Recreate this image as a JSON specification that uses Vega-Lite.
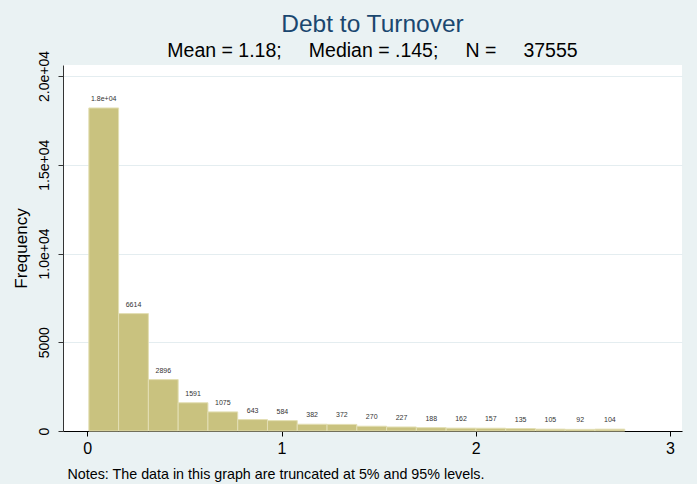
{
  "$schema": "https://vega.github.io/schema/vega-lite/v6.json",
  "width": 619,
  "height": 366,
  "autosize": {"type": "none"},
  "padding": {"left": 63, "top": 65, "right": 15, "bottom": 53},
  "background": "#eaf2f3",
  "config": {"view": {"fill": "white", "stroke": null}, "font": "Liberation Sans"},
  "title": {
    "text": "Debt to Turnover",
    "subtitle": "Mean = 1.18;\u00a0\u00a0\u00a0\u00a0 Median = .145;\u00a0\u00a0\u00a0\u00a0 N =\u00a0\u00a0\u00a0\u00a0 37555",
    "fontSize": 24.5,
    "fontWeight": "normal",
    "color": "#1a476f",
    "subtitleFontSize": 19.5,
    "subtitleColor": "#000000",
    "subtitlePadding": 5,
    "anchor": "middle",
    "dx": 0,
    "offset": -11
  },
  "data": {
    "values": [
      {"start": 0.008, "end": 0.1613, "mid": 0.0847, "count": 18200, "label": "1.8e+04"},
      {"start": 0.1613, "end": 0.3146, "mid": 0.238, "count": 6614, "label": "6614"},
      {"start": 0.3146, "end": 0.4679, "mid": 0.3913, "count": 2896, "label": "2896"},
      {"start": 0.4679, "end": 0.6212, "mid": 0.5446, "count": 1591, "label": "1591"},
      {"start": 0.6212, "end": 0.7745, "mid": 0.6979, "count": 1075, "label": "1075"},
      {"start": 0.7745, "end": 0.9278, "mid": 0.8512, "count": 643, "label": "643"},
      {"start": 0.9278, "end": 1.0811, "mid": 1.0045, "count": 584, "label": "584"},
      {"start": 1.0811, "end": 1.2344, "mid": 1.1578, "count": 382, "label": "382"},
      {"start": 1.2344, "end": 1.3877, "mid": 1.3111, "count": 372, "label": "372"},
      {"start": 1.3877, "end": 1.541, "mid": 1.4644, "count": 270, "label": "270"},
      {"start": 1.541, "end": 1.6943, "mid": 1.6177, "count": 227, "label": "227"},
      {"start": 1.6943, "end": 1.8476, "mid": 1.771, "count": 188, "label": "188"},
      {"start": 1.8476, "end": 2.0009, "mid": 1.9243, "count": 162, "label": "162"},
      {"start": 2.0009, "end": 2.1542, "mid": 2.0776, "count": 157, "label": "157"},
      {"start": 2.1542, "end": 2.3075, "mid": 2.2309, "count": 135, "label": "135"},
      {"start": 2.3075, "end": 2.4608, "mid": 2.3842, "count": 105, "label": "105"},
      {"start": 2.4608, "end": 2.6141, "mid": 2.5375, "count": 92, "label": "92"},
      {"start": 2.6141, "end": 2.7674, "mid": 2.6908, "count": 104, "label": "104"}
    ]
  },
  "layer": [
    {
      "mark": {"type": "bar", "fill": "#c9c27f", "stroke": "#e3dfb4", "strokeWidth": 1},
      "encoding": {
        "x": {
          "field": "start",
          "type": "quantitative",
          "scale": {"domain": [-0.125, 3.062], "nice": false, "zero": false},
          "axis": {
            "values": [0, 1, 2, 3],
            "format": "d",
            "grid": false,
            "domainColor": "#000000",
            "domainWidth": 1,
            "tickColor": "#000000",
            "tickSize": 5,
            "labelFontSize": 16,
            "labelColor": "#000000",
            "labelPadding": 4,
            "labelFlush": false,
            "title": "Notes: The data in this graph are truncated at 5% and 95% levels.",
            "titleFontSize": 14.3,
            "titleFontWeight": "normal",
            "titleColor": "#000000",
            "titleAnchor": "start",
            "titleAlign": "left",
            "titleX": 4,
            "titleY": 47,
            "titleBaseline": "alphabetic"
          }
        },
        "x2": {"field": "end"},
        "y": {
          "field": "count",
          "type": "quantitative",
          "scale": {"domain": [0, 20620], "nice": false},
          "axis": {
            "values": [0, 5000, 10000, 15000, 20000],
            "labelExpr": "datum.value == 0 ? '0' : datum.value == 5000 ? '5000' : datum.value == 10000 ? '1.0e+04' : datum.value == 15000 ? '1.5e+04' : '2.0e+04'",
            "labelAngle": 270,
            "labelAlign": "center",
            "labelBaseline": "alphabetic",
            "labelPadding": 10,
            "labelFontSize": 14,
            "labelColor": "#000000",
            "grid": true,
            "gridColor": "#e4edf0",
            "gridWidth": 1,
            "domainColor": "#333333",
            "tickColor": "#333333",
            "tickSize": 5,
            "title": "Frequency",
            "titleFontSize": 17,
            "titleFontWeight": "normal",
            "titleColor": "#000000",
            "titleAngle": 270,
            "titleAlign": "center",
            "titleBaseline": "alphabetic",
            "titleX": -37,
            "titleY": 183
          }
        },
        "y2": {"datum": 0}
      }
    },
    {
      "mark": {"type": "text", "fontSize": 7, "color": "#333333", "dy": -9, "baseline": "middle"},
      "encoding": {
        "x": {"field": "mid", "type": "quantitative"},
        "y": {"field": "count", "type": "quantitative"},
        "text": {"field": "label"}
      }
    }
  ]
}
